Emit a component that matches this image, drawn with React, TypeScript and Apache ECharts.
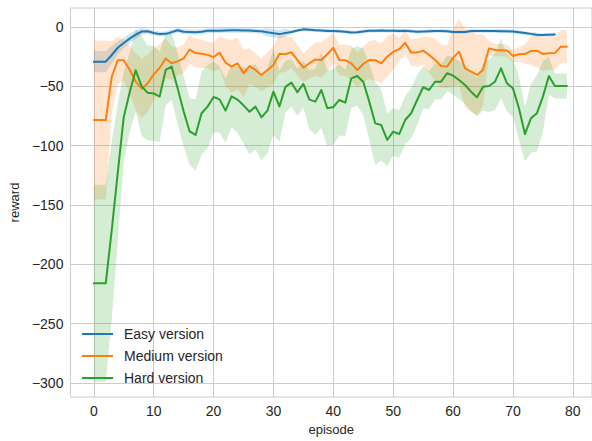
import React, { useEffect, useRef } from 'react';
import * as echarts from 'echarts';

const seriesNames = ['Easy version', 'Medium version', 'Hard version'];
const colors = ['#1f77b4', '#ff7f0e', '#2ca02c'];
const xTicks = [0, 10, 20, 30, 40, 50, 60, 70, 80];
const yTicks = [0, -50, -100, -150, -200, -250, -300];

const easyMean = [
  -29.2, -29.2, -29.2, -23.6, -17.5, -13.5, -9.8, -6.5, -3.8, -3.6,
  -5.0, -6.0, -5.8, -4.3, -2.7, -4.0, -4.2, -4.4, -4.0, -3.2,
  -3.1, -3.1, -2.9, -2.8, -2.8, -2.9, -3.0, -3.3, -3.6, -4.5,
  -5.2, -6.0, -5.0, -4.2, -3.0, -2.0, -2.4, -2.7, -2.9, -3.3,
  -3.4, -3.6, -4.0, -4.6, -4.5, -3.8, -3.2, -3.1, -3.0, -3.1,
  -3.2, -3.3, -3.2, -3.6, -4.0, -3.8, -3.5, -3.4, -3.4, -3.5,
  -4.3, -4.3, -4.2, -3.4, -3.3, -3.3, -3.3, -3.4, -3.5, -3.6,
  -3.8, -4.4, -5.0, -5.8, -6.6, -6.7, -6.5, -6.4,
];
const easyStd = [
  9, 9, 9, 7.5, 5.5, 4.5, 4, 3.5, 3, 2,
  2, 2, 2, 2, 2, 2, 2, 2, 2, 2,
  2, 2, 2, 2, 2, 2, 2, 2, 2, 3.5,
  3.5, 3.5, 3.5, 1.5, 1.5, 1.5, 1.5, 1.5, 1.5, 1.5,
  1.5, 1.5, 1.5, 1.5, 1.5, 1.5, 1.5, 1.5, 1.5, 1.5,
  1.5, 1.5, 1.5, 1.5, 1.5, 1.5, 1.5, 1.5, 1.5, 1.5,
  1.5, 1.5, 1.5, 1.5, 1.5, 1.5, 1.5, 1.5, 1.5, 1.5,
  1.5, 1.5, 1.5, 1.5, 1.5, 1.5, 1.5, 1.5,
];

const mediumMean = [
  -78.4, -78.4, -78.4, -42, -28, -28, -36, -46, -52, -47.5,
  -40, -34.5, -26.5, -30.5, -29, -26.5, -19, -22, -22.5, -23.5,
  -25.5, -21.5, -30, -33.4, -30.6, -39, -33, -36.2, -40.4, -36.2,
  -32, -22.5, -23, -21.3, -27.8, -34.3, -30.6, -27.3, -27.8, -23,
  -17.5, -27.8, -28, -30.6, -36.2, -31.2, -27.8, -28, -30.6, -25,
  -20.8, -18.8, -13.2, -21.6, -21.6, -19.9, -23.6, -27.8, -32.9, -33.4,
  -26, -20.8, -34.8, -37.6, -40.4, -36.2, -18, -19.4, -19.6, -19.9,
  -24.4, -23, -22.8, -20.2, -20, -22.8, -22.2, -22, -16.6, -16.6,
];
const mediumStd = [
  67, 67, 67, 30, 20, 17, 20, 24, 25, 24,
  22, 20, 17, 14, 12, 12, 12, 12, 12, 11,
  12, 14, 20, 22, 22, 20, 15, 14, 14, 15,
  16, 16, 15, 13, 13, 12, 13, 14, 15, 14,
  13, 13, 13, 15, 15, 15, 16, 17, 17, 17,
  15, 10, 10, 11, 12, 12, 15, 18, 18, 18,
  24, 28, 33, 34, 34, 30, 6, 5, 5, 5,
  5, 6, 8, 12, 14, 14, 14, 14, 14, 14,
];

const hardMean = [
  -216, -216, -216, -171, -123, -76, -55, -36.5, -50, -55.5,
  -56, -58.7, -36.2, -33.4, -51.7, -71, -88, -91, -72.7, -67.1,
  -59, -61, -70.5, -58.5, -61.2, -66, -71.4, -67.1, -76.1, -70.5,
  -54.5, -67, -50.5, -46.9, -55, -48, -61.2, -62.9, -53.1, -68.5,
  -67.5, -61.5, -63.8, -43.3, -41.3, -46.1, -62.9, -81.2, -82.6, -95.2,
  -88.2, -90.2, -78.4, -72.7, -61.5, -50.8, -53.1, -46.1, -46.1, -39,
  -41, -44.7, -48.9, -54.5, -59.3, -50.3, -49.7, -46.1, -34.8, -47.5,
  -51.7, -68.5, -90.2, -77, -72.7, -58.7, -41.3, -49.7, -49.7, -49.7,
];
const hardStd = [
  83, 83, 83, 75, 58, 38, 33, 35, 42, 40,
  40, 38, 30, 28, 30, 30, 28, 30, 35, 35,
  30, 28, 27, 26, 28, 32, 36, 36, 36, 36,
  36, 30, 22, 20, 20, 20, 25, 28, 32, 32,
  32, 30, 28, 25, 25, 28, 32, 35, 30, 22,
  20, 20, 20, 21, 21, 18, 16, 15, 15, 15,
  16, 16, 16, 16, 16, 20, 22, 24, 25, 24,
  24, 27, 23, 29, 32, 30, 16, 10.5, 10.5, 10.5,
];

const FONT = 'Liberation Sans, Arial, sans-serif';
const TEXT = '#262626';

export default function App() {
  const ref = useRef<HTMLDivElement>(null);
  useEffect(() => {
    const chart = echarts.init(ref.current as HTMLDivElement, null, { renderer: 'svg' });
    const groups: [number[], number[]][] = [
      [easyMean, easyStd],
      [mediumMean, mediumStd],
      [hardMean, hardStd],
    ];
    const series: any[] = [];
    groups.forEach(([m, s], k) => {
      const bandData = m.map((v, i) => [i, v - s[i], v + s[i]]);
      series.push({
        type: 'custom',
        name: 'band' + k,
        data: bandData,
        encode: { x: 0, y: [1, 2] },
        silent: true,
        z: 1,
        renderItem: (params: any, api: any) => {
          if (params.dataIndex !== 0) return null;
          const upper = bandData.map((d) => api.coord([d[0], d[2]]));
          const lower = bandData.map((d) => api.coord([d[0], d[1]])).reverse();
          return {
            type: 'polygon',
            shape: { points: upper.concat(lower) },
            style: { fill: colors[k], opacity: 0.2, stroke: 'none' },
          };
        },
      });
    });
    groups.forEach(([m], k) => {
      series.push({
        type: 'line',
        name: seriesNames[k],
        data: m.map((v, i) => [i, v]),
        symbol: 'none',
        lineStyle: { color: colors[k], width: 2, cap: 'round', join: 'round' },
        itemStyle: { color: colors[k] },
        z: 3,
      });
    });
    const fmt = (v: number) => String(v).replace('-', '\u2212');
    chart.setOption({
      animation: false,
      backgroundColor: '#ffffff',
      grid: {
        left: 70,
        right: -5,
        top: 8,
        bottom: 44,
        show: true,
        borderColor: '#cccccc',
        borderWidth: 1,
        containLabel: false,
      },
      legend: {
        data: seriesNames.map((n) => ({ name: n, icon: 'rect' })),
        orient: 'vertical',
        left: 82,
        top: 327,
        padding: 0,
        itemWidth: 31,
        itemHeight: 2,
        itemGap: 8,
        textStyle: { fontSize: 14, color: TEXT, fontFamily: FONT, padding: [0, 0, 0, 6] },
      },
      xAxis: {
        type: 'value',
        min: -3.9,
        max: 83.2,
        name: 'episode',
        nameLocation: 'middle',
        nameGap: 25,
        nameTextStyle: { fontSize: 13, color: TEXT, fontFamily: FONT },
        axisLine: { show: false },
        axisTick: { show: false, customValues: xTicks },
        axisLabel: { customValues: xTicks, fontSize: 14, color: TEXT, fontFamily: FONT, margin: 7, formatter: fmt },
        splitLine: { show: true, lineStyle: { color: '#cccccc', width: 1 } },
      },
      yAxis: {
        type: 'value',
        min: -311.8,
        max: 16,
        name: 'reward',
        nameLocation: 'middle',
        nameGap: 43,
        nameRotate: 90,
        nameTextStyle: { fontSize: 13, color: TEXT, fontFamily: FONT },
        axisLine: { show: false },
        axisTick: { show: false, customValues: yTicks },
        axisLabel: { customValues: yTicks, fontSize: 14, color: TEXT, fontFamily: FONT, margin: 7, formatter: fmt },
        splitLine: { show: true, lineStyle: { color: '#cccccc', width: 1 } },
      },
      series,
    });
    return () => chart.dispose();
  }, []);
  return <div ref={ref} style={{ position: 'absolute', left: 0, top: 0, width: 592, height: 441 }} />;
}
